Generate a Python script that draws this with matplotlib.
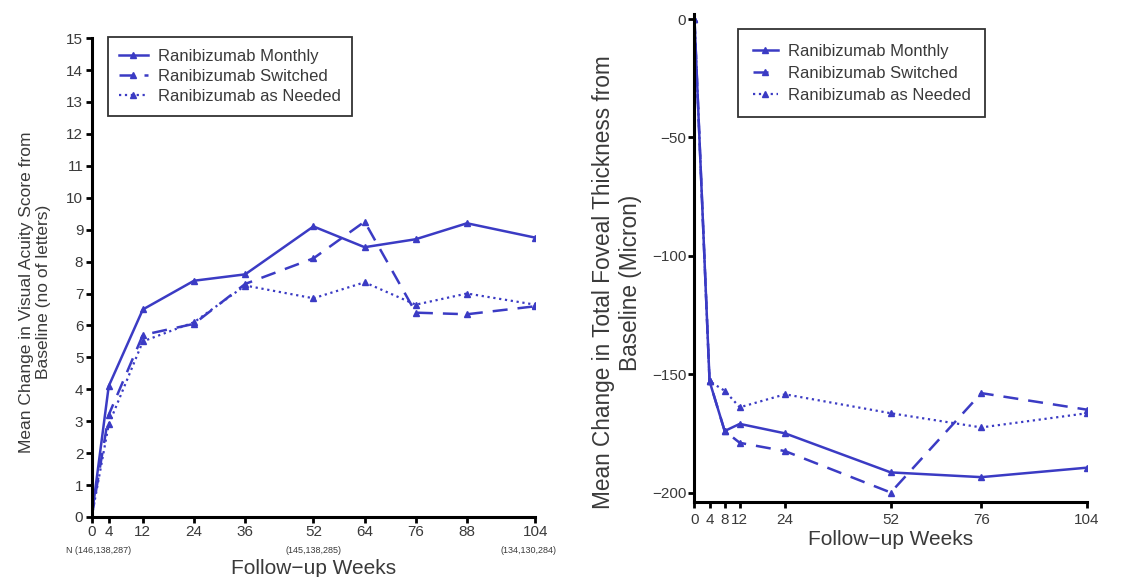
import matplotlib
matplotlib.use("Agg")
from matplotlib import pyplot as plt

plt.rcParams['font.family'] = ['Liberation Sans', 'DejaVu Sans']

# visual acuity panel
va_weeks = [0, 4, 12, 24, 36, 52, 64, 76, 88, 104]
va_monthly = [0, 4.1, 6.5, 7.4, 7.6, 9.1, 8.45, 8.7, 9.2, 8.75]
va_switched = [0, 3.2, 5.7, 6.05, 7.3, 8.1, 9.25, 6.4, 6.35, 6.6]
va_needed = [0, 2.9, 5.5, 6.1, 7.25, 6.85, 7.35, 6.65, 7.0, 6.65]
va_xticks = [0, 4, 12, 24, 36, 52, 64, 76, 88, 104]
va_n_labels = ["N (146,138,287)", "(145,138,285)", "(134,130,284)"]

# foveal thickness panel
ft_weeks = [0, 4, 8, 12, 24, 52, 76, 104]
ft_monthly = [0, -153, -174, -171, -175, -191.5, -193.5, -189.5]
ft_switched = [0, -153, -174, -179, -182.5, -200, -158, -165]
ft_needed = [0, -153, -157, -164, -158.5, -166.5, -172.5, -166.5]
ft_xticks = [0, 4, 8, 12, 24, 52, 76, 104]
ft_yticks = [0, -50, -100, -150, -200]

names = ["Ranibizumab Monthly", "Ranibizumab Switched", "Ranibizumab as Needed"]
blue = '#3b3bc4'
txt = '#3a3a3a'

fig = plt.figure(figsize=(11.46, 5.77), dpi=100)
ax1 = fig.add_axes([0.080, 0.104, 0.387, 0.830])
ax2 = fig.add_axes([0.606, 0.130, 0.3425, 0.845])


def style(ax):
    for s in ['top', 'right']:
        ax.spines[s].set_visible(False)
    for s in ['left', 'bottom']:
        ax.spines[s].set_linewidth(2.2)
        ax.spines[s].set_color('black')
    ax.tick_params(direction='out', length=4, width=2, colors='black',
                   labelcolor=txt, labelsize=11, pad=2)


def draw(ax, x, m, s, n):
    ax.plot(x, m, '-', color=blue, lw=1.8, marker='^', ms=4, label=names[0])
    ax.plot(x, s, '--', color=blue, lw=1.8, marker='^', ms=4,
            dashes=(6, 4), label=names[1])
    ax.plot(x, n, ':', color=blue, lw=1.6, marker='^', ms=5, label=names[2])


def legend(ax, anchor, pad, spacing, hl):
    leg = ax.legend(loc='upper left', bbox_to_anchor=anchor, fontsize=12,
                    frameon=True, fancybox=False, edgecolor='black',
                    handlelength=hl, borderpad=pad, borderaxespad=0,
                    labelspacing=spacing, handletextpad=0.6)
    leg.get_frame().set_linewidth(1.3)
    for t in leg.get_texts():
        t.set_color(txt)


draw(ax1, va_weeks, va_monthly, va_switched, va_needed)
style(ax1)
ax1.set_xlim(0, 104)
ax1.set_ylim(0, 15)
ax1.set_xticks(va_xticks)
ax1.set_yticks(range(0, 16))
ax1.set_ylabel("Mean Change in Visual Acuity Score from\nBaseline (no of letters)",
               fontsize=12.5, color=txt, labelpad=11, y=0.47)
ax1.set_xlabel("Follow\u2212up Weeks", fontsize=15, color=txt, labelpad=14)
ax1.text(-6, -1.05, va_n_labels[0], fontsize=6.5, color=txt, ha='left', va='center')
ax1.text(52, -1.05, va_n_labels[1], fontsize=6.5, color=txt, ha='center', va='center')
ax1.text(109, -1.05, va_n_labels[2], fontsize=6.5, color=txt, ha='right', va='center')
legend(ax1, (0.036, 1.002), 0.7, 0.31, 1.7)

draw(ax2, ft_weeks, ft_monthly, ft_switched, ft_needed)
style(ax2)
ax2.set_xlim(0, 104)
ax2.set_ylim(-204, 2)
ax2.set_xticks(ft_xticks)
ax2.set_yticks(ft_yticks)
ax2.tick_params(axis='x', pad=4)
ax2.set_ylabel("Mean Change in Total Foveal Thickness from\nBaseline (Micron)",
               fontsize=16.3, color=txt, labelpad=7, y=0.45)
ax2.set_xlabel("Follow\u2212up Weeks", fontsize=15, color=txt, labelpad=2)
legend(ax2, (0.112, 0.97), 0.87, 0.43, 1.5)

fig.savefig("out.png", dpi=100)
